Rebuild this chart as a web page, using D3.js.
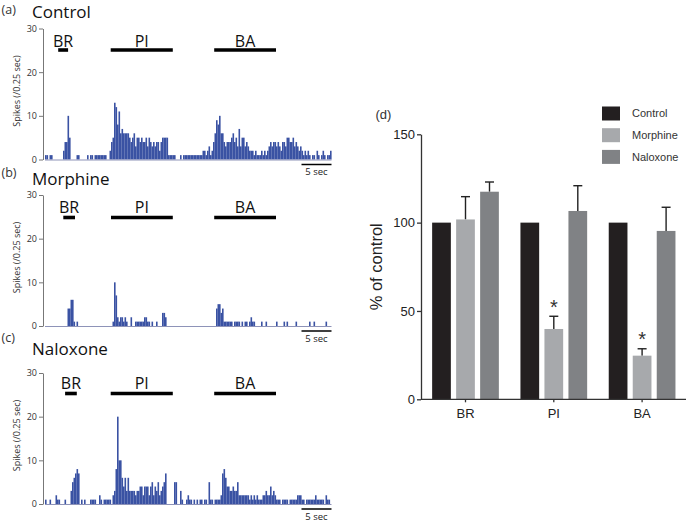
<!DOCTYPE html>
<html><head><meta charset="utf-8">
<script src="https://cdn.jsdelivr.net/npm/d3@7"></script>
<style>body{margin:0;background:#fff}svg{display:block;background:#fff}</style>
</head><body><svg id="c" width="688" height="522"></svg>
<script>
// ---------- data: spike histograms (spikes per 0.25 s bin) ----------
const binSeconds = 0.25;
const controlCounts = [1,1,0,1,1,0, 0,0,0,0,0,0, 2,4,4,10,5,0, 0,0,0, 1,1, 0,0,0,0,0, 1,0,1,1,0,1,1,1,1,1,1,1,1,0,0,
 2,4,5,13,12,8,11,6,7,6,6,6,6,5,4,5,6,3,5,5,4,5,4,4,5,3,5,4,3,4,3,4,4,2,4,5,5,5,5,
 1,1,1,1,1,0,0,0,1,0,1,1, 1,1,1,1,1,1,1,1,1,1,1,2, 2,1,2,3,1,2,4, 6,9,8,10,6,6,4,
 3,4,4,4,5,6,4,5,3,7,3,5,5,3,4,3,2, 2,2,1,2,1,1,1,2,1,2,1,2,
 3,4,3,4,4,3,4,3,2,4,4,3,5,5,4,4,5,3,4,3,2,3, 2,1,2,1,2,1,0,1,1,0,2,1,0,1,2,1,0,1,1,2];
const morphineCounts = [0,0,0,0,0,0,0,0,0,0,0,0,0,0,0, 4,4,6,6,1,0,1,
 0,0,0,0,0,0,0,0,0,0,0,0,0,0,0,0,0,0,0,0,0,0,0,
 1,10,7,2,1,2,2,1,2,1,0,0,2,0,0,1,1,1,1,1,1,2,2,1,1,0,1,0,0,1,0,0,0,3,3,2,
 0,0,0,0,0,0,0,0,0,0,0,0,0,0,0,0,0,0,0,0,0,0,0,0,0,0,0,0,0,0,0,0,0,
 4,5,5,3,4,1,1,1,1,1,1,0,1,1,1,1,0,1,0,1,1,0,1,2,1,1,
 0,0,0,0, 1,0,0,1, 0,0,0,0,0,0, 1, 0,0,0,0, 1,0,1, 0,0,0,0,0, 1, 0,0,0,0,0,0,0,0, 1,0,0,1, 0,0,0,0,0,0,0, 1,0,0,0];
const naloxoneCounts = [1,0,0,1,0,0,0,2,1,1,0,0,0,1,0,0,0,
 3,5,6,7,8,7,0,
 1,0,1,0,0,0,1,1,1,1,0,0,2,1,0,1,1,1,1,1,0,2,3,
 8,20,10,10,6,4,6,3,6,3,3,3,3,2,3,3,4,4,2,4,4,4,2,4,5,2,4,3,5,2,3,4,5,7,
 0,0,0,0,0,5,5,0,0,3,1,0,0,1,2,1,1,0,1,0,1,0,1,1,0,1,1,0,5,1,1,0,1,1,1,1,2,7,8,6,4,4,3,3,4,3,3,5,2,2,2,2,2,2,2,1,2,1,2,1,2,1,1,1,2,2,3,2,2,4,2,3,2,1,1,1,0,1,1,1,1,0,1,1,1,1,1,2,2,2,1,1,0,1,1,1,1,1,1,2,1,1,1,1,1,0,2,1,1,0];
const traceNames = ["Control", "Morphine", "Naloxone"];
const panelLetters = ["(a)", "(b)", "(c)", "(d)"];
const stimLabels = ["BR", "PI", "BA"];
const stimControl  = [[2.2, 3.85], [10.95, 21.3], [28.2, 38.5]];
const stimMorphine = [[3.05, 5.0], [11.0, 21.3], [28.2, 38.5]];
const stimNaloxone = [[3.35, 5.3], [10.95, 21.3], [28.2, 38.5]];
const spikeTicks = [0, 10, 20, 30];
const scaleBarSec = [42.75, 47.75];
const scaleBarLabel = "5 sec";
const spikeAxisLabel = "Spikes (/0.25 sec)";

// ---------- data: summary bar chart (% of control) ----------
const categories = ["BR", "PI", "BA"];
const groups = ["Control", "Morphine", "Naloxone"];
const controlPct  = [100, 100, 100];
const morphinePct = [101.8, 39.8, 24.7];
const naloxonePct = [117.5, 106.6, 95.3];
const controlSem  = [0, 0, 0];
const morphineSem = [12.9, 7.2, 3.9];
const naloxoneSem = [5.5, 14.3, 13.4];
const morphineSignificant = [false, true, true];
const pctTicks = [0, 50, 100, 150];
const pctAxisLabel = "% of control";

// ---------- drawing ----------
const svg = d3.select("#c");
const sans = "'Open Sans', 'DejaVu Sans', sans-serif";
const arial = "'Liberation Sans', Arial, sans-serif";
const barBlue = "#3a52a3";

const x = d3.scaleLinear().domain([0, 48]).range([45, 333]);
const layout = [
  {base: 159.5, letterY: 13.5,  titleY: 17.5, stimY: 50,    stimTextY: 46.5},
  {base: 326,   letterY: 176.5, titleY: 185,  stimY: 217.5, stimTextY: 212.5},
  {base: 504,   letterY: 342,   titleY: 355,  stimY: 393.5, stimTextY: 388.5}
];
const countsAll = [controlCounts, morphineCounts, naloxoneCounts];
const stimAll = [stimControl, stimMorphine, stimNaloxone];

countsAll.forEach((counts, p) => {
  const L = layout[p];
  const y = d3.scaleLinear().domain([0, 30]).range([L.base, L.base - 131]);
  const g = svg.append("g");

  g.append("text").attr("x", 1.5).attr("y", L.letterY)
    .attr("font-family", sans).attr("font-size", 12.5).attr("fill", "#333").text(panelLetters[p]);
  g.append("text").attr("x", 32).attr("y", L.titleY)
    .attr("font-family", sans).attr("font-size", 17).attr("fill", "#111").text(traceNames[p]);

  // bars
  const bw = x(binSeconds) - x(0);
  g.append("g").selectAll("rect").data(counts).join("rect")
    .attr("x", (d, i) => x(i * binSeconds))
    .attr("width", bw + 0.1)
    .attr("y", d => y(d))
    .attr("height", d => y(0) - y(d))
    .attr("fill", barBlue);

  // baseline
  g.append("line")
    .attr("x1", x(0)).attr("x2", x(counts.length * binSeconds))
    .attr("y1", y(0) + 0.5).attr("y2", y(0) + 0.5)
    .attr("stroke", "#8e93b8").attr("stroke-width", 1);

  // y axis
  const ax = g.append("g").attr("transform", "translate(43,0)")
    .call(d3.axisLeft(y).tickValues(spikeTicks).tickSize(4).tickSizeOuter(0).tickPadding(2));
  ax.select(".domain").attr("stroke", "#777");
  ax.selectAll(".tick line").attr("stroke", "#777");
  ax.selectAll(".tick text").attr("font-family", sans).attr("font-size", 9).attr("fill", "#333");

  g.append("text")
    .attr("transform", `translate(20,${(y(0) + y(30)) / 2 - 3}) rotate(-90)`)
    .attr("text-anchor", "middle").attr("font-family", sans).attr("font-size", 9)
    .attr("fill", "#333").text(spikeAxisLabel);

  // stimulus windows
  stimAll[p].forEach((s, k) => {
    g.append("line").attr("x1", x(s[0])).attr("x2", x(s[1]))
      .attr("y1", L.stimY).attr("y2", L.stimY)
      .attr("stroke", "#000").attr("stroke-width", 3.6);
    g.append("text").attr("x", (x(s[0]) + x(s[1])) / 2).attr("y", L.stimTextY)
      .attr("text-anchor", "middle").attr("font-family", sans).attr("font-size", 16)
      .attr("fill", "#111").text(stimLabels[k]);
  });

  // time scale bar
  g.append("line").attr("x1", x(scaleBarSec[0])).attr("x2", x(scaleBarSec[1]))
    .attr("y1", L.base + 5).attr("y2", L.base + 5)
    .attr("stroke", "#000").attr("stroke-width", 1.5);
  g.append("text").attr("x", (x(scaleBarSec[0]) + x(scaleBarSec[1])) / 2).attr("y", L.base + 15.5)
    .attr("text-anchor", "middle").attr("font-family", sans).attr("font-size", 9.5)
    .attr("fill", "#222").text(scaleBarLabel);
});

// ---------- panel (d) ----------
const dg = svg.append("g");
const yP = d3.scaleLinear().domain([0, 150]).range([399.3, 134.3]);
const x0 = d3.scaleBand().domain(categories).range([421.35, 686.25]);
const x1 = d3.scaleBand().domain(groups).range([8.15, 80.15]).paddingInner(0.22).paddingOuter(0.11);
const groupColor = d3.scaleOrdinal().domain(groups).range(["#231f20", "#a7a9ac", "#808285"]);
const means = [controlPct, morphinePct, naloxonePct];
const sems = [controlSem, morphineSem, naloxoneSem];

const rows = [];
categories.forEach((c, ci) => groups.forEach((s, si) => {
  rows.push({c, s, v: means[si][ci], e: sems[si][ci], sig: si === 1 && morphineSignificant[ci]});
}));

// error bars (behind the bars)
const eb = dg.append("g");
rows.filter(r => r.e > 0).forEach(r => {
  const cx = x0(r.c) + x1(r.s) + x1.bandwidth() / 2;
  eb.append("line").attr("x1", cx).attr("x2", cx).attr("y1", yP(r.v)).attr("y2", yP(r.v + r.e))
    .attr("stroke", "#222").attr("stroke-width", 1.4);
  eb.append("line").attr("x1", cx - 4.5).attr("x2", cx + 4.5).attr("y1", yP(r.v + r.e)).attr("y2", yP(r.v + r.e))
    .attr("stroke", "#222").attr("stroke-width", 1.4);
});

dg.append("g").selectAll("rect").data(rows).join("rect")
  .attr("x", r => x0(r.c) + x1(r.s))
  .attr("width", x1.bandwidth())
  .attr("y", r => yP(r.v))
  .attr("height", r => yP(0) - yP(r.v))
  .attr("fill", r => groupColor(r.s));

// significance stars
rows.filter(r => r.sig).forEach(r => {
  dg.append("text").attr("x", x0(r.c) + x1(r.s) + x1.bandwidth() / 2).attr("y", yP(r.v + r.e) - 2.3)
    .attr("text-anchor", "middle").attr("font-family", arial).attr("font-size", 20)
    .attr("fill", "#333").text("*");
});

// axes
const yAx = dg.append("g").attr("transform", "translate(421,0)")
  .call(d3.axisLeft(yP).tickValues(pctTicks).tickSize(4).tickSizeOuter(0).tickPadding(2));
yAx.select(".domain").attr("stroke", "#333").attr("stroke-width", 1.3);
yAx.selectAll(".tick line").attr("stroke", "#333").attr("stroke-width", 1.3);
yAx.selectAll(".tick text").attr("font-family", arial).attr("font-size", 13).attr("fill", "#222");

const xAx = dg.append("g").attr("transform", `translate(0,${yP(0)})`)
  .call(d3.axisBottom(x0).tickSize(3).tickSizeOuter(0).tickPadding(6));
xAx.select(".domain").attr("stroke", "#333").attr("stroke-width", 1.3).attr("d", `M421,0H686`);
xAx.selectAll(".tick line").attr("stroke", "#333").attr("stroke-width", 1.3);
xAx.selectAll(".tick text").attr("font-family", arial).attr("font-size", 13).attr("fill", "#222");

dg.append("text").attr("transform", `translate(382,${(yP(0) + yP(150)) / 2}) rotate(-90)`)
  .attr("text-anchor", "middle").attr("font-family", arial).attr("font-size", 16.5)
  .attr("fill", "#222").text(pctAxisLabel);

dg.append("text").attr("x", 375.5).attr("y", 118.5).attr("font-family", arial)
  .attr("font-size", 13).attr("fill", "#333").text(panelLetters[3]);

// legend
const lg = dg.append("g");
groups.forEach((s, i) => {
  const cy = 113.5 + i * 21.7;
  lg.append("rect").attr("x", 602).attr("y", cy - 7).attr("width", 18).attr("height", 14)
    .attr("fill", groupColor(s));
  lg.append("text").attr("x", 632).attr("y", cy).attr("dy", "0.35em")
    .attr("font-family", arial).attr("font-size", 11).attr("fill", "#333").text(s);
});
</script></body></html>
